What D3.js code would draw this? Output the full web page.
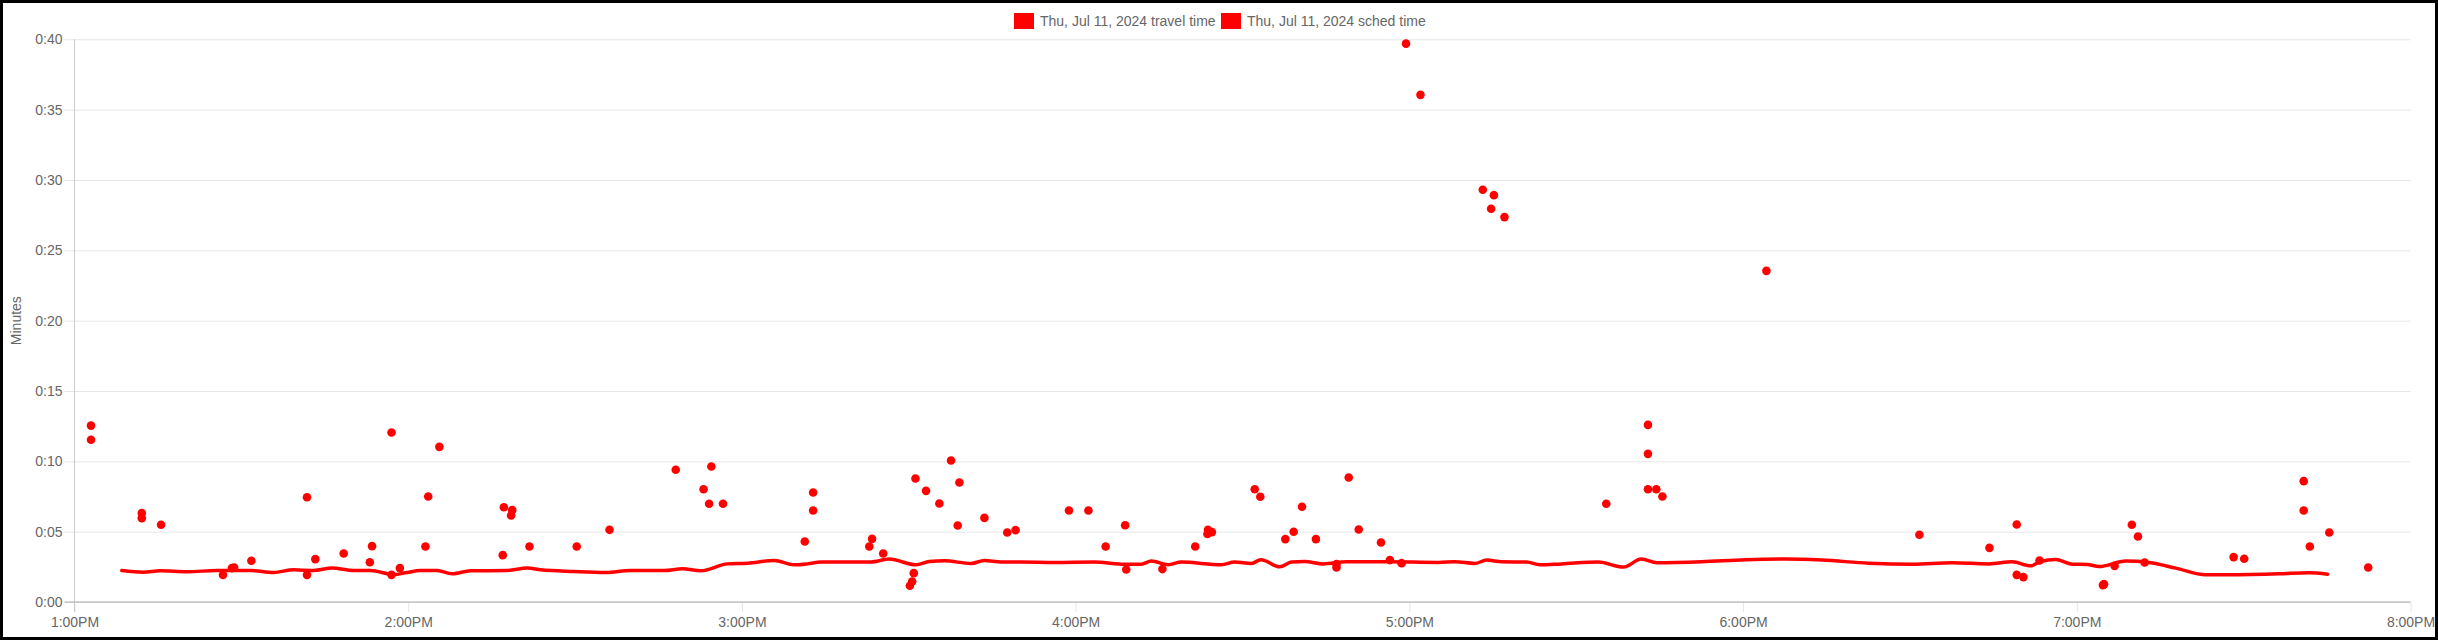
<!DOCTYPE html>
<html>
<head>
<meta charset="utf-8">
<script src="https://cdn.jsdelivr.net/npm/d3@7"></script>
<style>
  html, body { margin: 0; padding: 0; background: #fff; }
  svg { display: block; }
  text { font-family: "Liberation Sans", Arial, Helvetica, sans-serif; }
</style>
</head>
<body>
<svg id="chart" width="2438" height="644"></svg>
<script>
// ---- data ----
const seriesNames = ["Thu, Jul 11, 2024 travel time", "Thu, Jul 11, 2024 sched time"];
const yTickValues = [0, 5, 10, 15, 20, 25, 30, 35, 40];
const xTickLabels = ["13:00", "14:00", "15:00", "16:00", "17:00", "18:00", "19:00", "20:00"];

const travelTimes = [
  "13:02:58","13:02:58","13:12:06","13:12:06","13:15:34","13:26:42","13:28:18","13:28:42","13:31:48","13:41:48",
  "13:41:48","13:43:18","13:48:24","13:53:06","13:53:30","13:57:00","13:57:00","13:58:30","14:03:06","14:03:36",
  "14:05:36","14:17:00","14:17:12","14:18:42","14:18:30","14:21:48","14:30:18","14:36:12","14:48:06","14:53:06",
  "14:54:30","14:54:06","14:56:36","15:11:18","15:12:48","15:12:48","15:22:54","15:23:24","15:25:24","15:30:54",
  "15:30:36","15:30:12","15:31:12","15:33:06","15:35:30","15:37:36","15:39:06","15:38:48","15:43:36","15:47:42",
  "15:49:12","15:58:48","16:02:18","16:05:24","16:08:54","16:09:06","16:15:36","16:21:30","16:23:48","16:23:42",
  "16:24:30","16:32:12","16:33:12","16:37:42","16:39:12","16:40:42","16:43:12","16:46:54","16:46:54","16:49:06",
  "16:50:54","16:54:54","16:56:30","16:58:36","16:59:24","17:02:00","17:13:12","17:15:12","17:14:42","17:17:06",
  "18:04:12","17:42:54","17:42:54","17:35:24","17:42:54","17:44:24","17:45:30","18:31:42","18:44:18","18:49:12",
  "18:49:12","18:50:24","18:53:18","19:04:54","19:04:42","19:06:48","19:09:54","19:11:00","19:12:12","19:28:12",
  "19:30:06","19:40:48","19:40:48","19:41:54","19:45:24","19:52:24"
];
const travelMinutes = [
  12.54,11.53,6.32,5.96,5.49,1.93,2.41,2.45,2.93,7.45,
  1.93,3.05,3.45,2.83,3.97,12.05,1.93,2.41,3.94,7.50,
  11.03,3.33,6.74,6.53,6.15,3.94,3.94,5.13,9.40,8.02,
  9.63,6.98,6.98,4.30,7.78,6.50,3.94,4.49,3.45,2.05,
  1.46,1.15,8.78,7.90,7.00,10.06,8.49,5.44,5.98,4.94,
  5.11,6.50,6.50,3.94,5.46,2.31,2.34,3.94,5.13,4.83,
  4.97,8.02,7.48,4.47,4.99,6.77,4.47,2.45,2.69,8.85,
  5.15,4.23,2.98,2.76,39.69,36.05,29.30,28.92,27.95,27.36,
  23.54,12.59,10.53,6.98,8.02,8.02,7.50,4.78,3.85,5.51,
  1.93,1.77,2.95,1.27,1.20,2.57,5.49,4.66,2.81,3.19,
  3.07,8.59,6.50,3.94,4.94,2.45
];

const schedTimes = [
  "13:08:30","13:12:24","13:15:24","13:20:12","13:25:36","13:31:36","13:35:48","13:39:24","13:43:00","13:46:18",
  "13:50:12","13:53:12","13:57:24","13:59:48","14:02:12","14:05:12","14:07:54","14:11:12","14:17:48","14:21:24",
  "14:23:48","14:29:48","14:35:30","14:40:00","14:46:00","14:49:18","14:52:36","14:57:24","15:01:00","15:05:48",
  "15:09:24","15:11:48","15:14:12","15:23:12","15:26:30","15:31:18","15:33:42","15:36:24","15:41:12","15:43:36",
  "15:46:36","15:50:12","15:56:12","16:03:24","16:08:12","16:11:48","16:13:36","16:16:36","16:19:00","16:26:12",
  "16:28:36","16:31:36","16:33:18","16:36:42","16:38:48","16:41:12","16:44:30","16:48:42","16:56:12","17:05:12",
  "17:08:12","17:11:48","17:13:54","17:16:36","17:21:06","17:23:30","17:27:24","17:34:00","17:38:30","17:41:42",
  "17:44:30","17:52:36","18:00:24","18:07:36","18:14:12","18:22:36","18:30:24","18:37:36","18:44:12","18:48:24",
  "18:51:42","18:53:30","18:56:12","18:59:12","19:01:54","19:04:00","19:08:48","19:13:00","19:17:48","19:23:12",
  "19:27:24","19:36:24","19:41:48","19:45:06"
];
const schedMinutes = [
  2.24,2.12,2.22,2.15,2.24,2.24,2.10,2.29,2.24,2.41,
  2.24,2.24,1.95,2.10,2.24,2.24,2.00,2.22,2.24,2.41,
  2.29,2.17,2.10,2.24,2.24,2.36,2.22,2.71,2.76,2.95,
  2.64,2.71,2.84,2.84,3.05,2.64,2.88,2.93,2.74,2.95,
  2.84,2.84,2.81,2.84,2.69,2.69,2.91,2.64,2.84,2.64,
  2.84,2.74,3.00,2.50,2.84,2.88,2.71,2.86,2.86,2.81,
  2.86,2.74,2.98,2.86,2.84,2.64,2.71,2.84,2.48,3.05,
  2.79,2.86,3.00,3.05,2.98,2.76,2.69,2.79,2.71,2.86,
  2.57,2.88,3.02,2.69,2.67,2.52,2.91,2.81,2.41,1.93,
  1.93,2.00,2.08,1.98
];

// ---- chart ----
const W = 2438, H = 644;
const plot = { left: 74.5, right: 2410.5, top: 39.3, bottom: 602 };
const red = "#ff0000";
const grid = "#e6e6e6";
const txt = "#666";

const parse = d3.timeParse("%H:%M:%S");
const parseH = d3.timeParse("%H:%M");
const xDomain = [parseH(xTickLabels[0]), parseH(xTickLabels[xTickLabels.length - 1])];
const x = d3.scaleTime().domain(xDomain).range([plot.left, plot.right]);
const y = d3.scaleLinear().domain([0, 40]).range([plot.bottom, plot.top]);

const travel = travelTimes.map((t, i) => ({ t: parse(t), v: travelMinutes[i] }));
const sched = schedTimes.map((t, i) => ({ t: parse(t), v: schedMinutes[i] }));

const svg = d3.select("#chart");
svg.append("rect").attr("x", 0).attr("y", 0).attr("width", W).attr("height", H).attr("fill", "#fff");

// horizontal grid + y axis
const yAxis = d3.axisLeft(y)
  .tickValues(yTickValues)
  .tickSize(-(plot.right - plot.left))
  .tickPadding(12)
  .tickFormat(d => "0:" + String(d).padStart(2, "0"));
const gy = svg.append("g").attr("transform", `translate(${plot.left},0)`).call(yAxis);
gy.select(".domain").remove();
gy.selectAll(".tick line").attr("stroke", grid).attr("stroke-width", 1).attr("x1", -10);
gy.selectAll(".tick text").attr("fill", txt).attr("font-size", 14).attr("x", -12);

// vertical grid + x axis
const xTicks = xTickLabels.map(parseH);
const xAxis = d3.axisBottom(x)
  .tickValues(xTicks)
  .tickSize(-(plot.bottom - plot.top))
  .tickPadding(14)
  .tickFormat(d3.timeFormat("%-I:%M%p"));
const gx = svg.append("g").attr("transform", `translate(0,${plot.bottom})`).call(xAxis);
gx.select(".domain").remove();
gx.selectAll(".tick line").attr("stroke", grid).attr("stroke-width", 1).attr("y2", 10);
gx.selectAll(".tick text").attr("fill", txt).attr("font-size", 14).attr("y", 15);

// axis lines
svg.append("line").attr("x1", plot.left).attr("x2", plot.left)
  .attr("y1", plot.top).attr("y2", plot.bottom + 10).attr("stroke", "#cccccc");
svg.append("line").attr("x1", plot.left - 10).attr("x2", plot.right)
  .attr("y1", plot.bottom).attr("y2", plot.bottom).attr("stroke", "#aaaaaa");

// y axis title
svg.append("text")
  .attr("transform", `translate(16,${(plot.top + plot.bottom) / 2}) rotate(-90)`)
  .attr("text-anchor", "middle").attr("dominant-baseline", "central")
  .attr("font-size", 14).attr("fill", txt).text("Minutes");

// sched line
const line = d3.line().x(d => x(d.t)).y(d => y(d.v)).curve(d3.curveMonotoneX);
svg.append("path").datum(sched).attr("d", line)
  .attr("fill", "none").attr("stroke", red).attr("stroke-width", 3.5)
  .attr("stroke-linejoin", "round").attr("stroke-linecap", "round");

// travel points
svg.append("g").selectAll("circle").data(travel).join("circle")
  .attr("cx", d => x(d.t)).attr("cy", d => y(d.v)).attr("r", 4.3).attr("fill", red);

// legend
const legend = [
  { name: seriesNames[0], bx: 1014, tx: 1040 },
  { name: seriesNames[1], bx: 1221, tx: 1247 }
];
const lg = svg.append("g");
legend.forEach(l => {
  lg.append("rect").attr("x", l.bx).attr("y", 13).attr("width", 20).attr("height", 16).attr("fill", red);
  lg.append("text").attr("x", l.tx).attr("y", 21).attr("dominant-baseline", "central")
    .attr("font-size", 14).attr("fill", txt).text(l.name);
});

// outer frame
svg.append("rect").attr("x", 1.5).attr("y", 1.5).attr("width", W - 3).attr("height", 637)
  .attr("fill", "none").attr("stroke", "#000").attr("stroke-width", 3);
</script>
</body>
</html>
